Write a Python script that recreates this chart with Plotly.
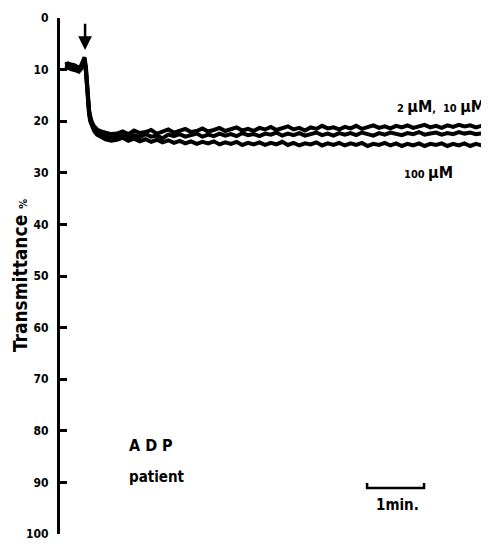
import plotly.graph_objects as go

# time in minutes after start of recording
time_min = [0.09, 0.14, 0.19, 0.24, 0.29, 0.33, 0.37, 0.40, 0.43, 0.455,
            0.475, 0.49, 0.51, 0.53, 0.56, 0.60, 0.65, 0.72, 0.80, 0.90,
            1.0, 1.1, 1.2, 1.3, 1.4, 1.5, 1.6, 1.7, 1.8, 1.9,
            2.0, 2.1, 2.2, 2.3, 2.4, 2.5, 2.6, 2.7, 2.8, 2.9,
            3.0, 3.1, 3.2, 3.3, 3.4, 3.5, 3.6, 3.7, 3.8, 3.9,
            4.0, 4.1, 4.2, 4.3, 4.4, 4.5, 4.6, 4.7, 4.8, 4.9,
            5.0, 5.1, 5.2, 5.3, 5.4, 5.5, 5.6, 5.7, 5.8, 5.9,
            6.0, 6.1, 6.2, 6.3, 6.4, 6.5, 6.6, 6.7, 6.8, 6.9,
            7.0, 7.1, 7.2, 7.3, 7.4, 7.5, 7.6]

adp_2uM = [9.0, 8.8, 9.0, 9.1, 9.4, 9.8, 9.2, 8.3, 7.6, 9.5,
           13.0, 16.0, 17.8, 19.0, 20.2, 21.0, 21.6, 22.0, 22.3, 22.5,
           22.4, 22.0, 22.5, 21.8, 22.3, 22.1, 21.7, 22.4, 22.0, 21.6,
           22.2, 21.8, 21.5, 22.1, 21.9, 21.4, 22.0, 21.7, 21.3, 21.9,
           21.6, 21.2, 21.8, 21.5, 21.9, 21.3, 21.6, 21.1, 21.7, 21.4,
           21.0, 21.6, 21.3, 21.8, 21.2, 21.5, 20.9, 21.4, 21.2, 21.6,
           21.1, 21.4, 20.9, 21.5, 21.2, 20.8, 21.3, 21.0, 21.4, 20.9,
           21.2, 20.8, 21.3, 21.0, 20.7, 21.2, 20.9, 21.3, 20.8, 21.1,
           20.7, 21.0, 20.8, 21.2, 20.9, 21.0, 20.8]

adp_10uM = [9.4, 9.3, 9.5, 9.6, 9.8, 10.2, 9.6, 8.7, 7.9, 10.0,
            13.5, 16.5, 18.2, 19.5, 20.6, 21.5, 22.1, 22.6, 22.9, 23.2,
            23.0, 22.6, 23.2, 22.7, 23.1, 22.5, 23.0, 22.8, 23.3, 22.6,
            22.9, 22.5, 23.0, 22.7, 22.4, 23.0, 22.6, 22.9, 22.4, 22.8,
            22.5, 22.9, 22.3, 22.7, 22.5, 22.9, 22.4, 22.6, 22.2, 22.8,
            22.4, 22.7, 22.3, 22.8, 22.5, 22.2, 22.7, 22.4, 22.8, 22.3,
            22.6, 22.3, 22.7, 22.2, 22.5, 22.8, 22.3, 22.6, 22.2, 22.5,
            22.7, 22.3, 22.5, 22.1, 22.6, 22.4, 22.2, 22.6, 22.3, 22.5,
            22.1, 22.4, 22.2, 22.5, 22.3, 22.2, 22.4]

adp_100uM = [9.8, 9.6, 9.9, 10.0, 10.2, 10.4, 9.9, 9.0, 8.2, 10.5,
             14.0, 17.0, 18.6, 20.0, 21.0, 21.9, 22.6, 23.1, 23.5, 23.8,
             23.6, 23.2, 23.8, 23.4, 23.9, 23.5, 24.0, 23.6, 24.1, 23.7,
             24.2, 23.8, 24.3, 23.9, 24.4, 24.0, 24.3, 23.9, 24.5, 24.1,
             24.4, 24.0, 24.6, 24.2, 24.5, 24.1, 24.6, 24.2, 24.5, 24.0,
             24.6, 24.2, 24.7, 24.3, 24.5, 24.1, 24.7, 24.3, 24.6, 24.2,
             24.7, 24.3, 24.6, 24.2, 24.8, 24.4, 24.6, 24.2, 24.7, 24.3,
             24.8, 24.4, 24.7, 24.3, 24.8, 24.4, 24.6, 24.3, 24.8, 24.4,
             24.7, 24.3, 24.8, 24.4, 24.7, 24.5, 24.6]

y_ticks = [0, 10, 20, 30, 40, 50, 60, 70, 80, 90, 100]

# 1-minute scale bar
scale_x = [5.39, 5.39, 6.39, 6.39]
scale_y = [90.1, 91.1, 91.1, 90.1]

# ADP addition time (arrow)
adp_add_t = 0.44

FONT = "DejaVu Sans Condensed, Liberation Sans, sans-serif"

fig = go.Figure()
for name, ys in [("2 µM", adp_2uM), ("10 µM", adp_10uM), ("100 µM", adp_100uM)]:
    fig.add_trace(go.Scatter(x=time_min, y=ys, mode="lines", name=name,
                             line=dict(color="black", width=4),
                             hoverinfo="skip", showlegend=False))

fig.add_trace(go.Scatter(x=scale_x, y=scale_y, mode="lines",
                         line=dict(color="black", width=2.5),
                         showlegend=False, hoverinfo="skip"))

fig.add_annotation(x=adp_add_t, y=6.2, ax=adp_add_t, ay=0.8,
                   xref="x", yref="y", axref="x", ayref="y",
                   showarrow=True, arrowhead=2, arrowsize=1.1,
                   arrowwidth=2.5, arrowcolor="black", text="")

fig.add_annotation(x=1.18, y=82.8, text="A D P", showarrow=False,
                   xanchor="left", yanchor="middle",
                   font=dict(family=FONT, color="black", size=16, weight="bold"))
fig.add_annotation(x=1.18, y=89.0, text="patient", showarrow=False,
                   xanchor="left", yanchor="middle",
                   font=dict(family=FONT, color="black", size=15, weight="bold"))
fig.add_annotation(x=5.92, y=94.4, text="1min.", showarrow=False,
                   xanchor="center", yanchor="middle",
                   font=dict(family=FONT, color="black", size=15, weight="bold"))
fig.add_annotation(x=6.93, y=30.0,
                   text='<span style="font-size:11px">100 </span><span style="font-size:16px">µM</span>',
                   showarrow=False, xanchor="right", yanchor="middle",
                   font=dict(family=FONT, color="black", size=14, weight="bold"))
fig.add_annotation(x=7.5, y=17.2,
                   text='<span style="font-size:11px">2 </span><span style="font-size:16px">µM</span><span style="font-size:11px">,  10 </span><span style="font-size:16px">µM</span>',
                   showarrow=False, xanchor="right", yanchor="middle",
                   font=dict(family=FONT, color="black", size=14, weight="bold"))
fig.add_annotation(x=-0.093, y=50, xref="paper", yref="y",
                   text='Transmittance <span style="font-size:11px">%</span>',
                   textangle=-90, showarrow=False,
                   xanchor="center", yanchor="middle",
                   font=dict(family=FONT, color="black", size=19, weight="bold"))

fig.update_layout(
    template="none",
    width=481, height=532,
    margin=dict(l=52, r=0, t=10, b=6),
    plot_bgcolor="white", paper_bgcolor="white",
    xaxis=dict(range=[0, 7.53], visible=False, automargin=False),
    yaxis=dict(range=[100, 0], tickvals=y_ticks, automargin=False,
               ticks="inside", ticklen=7, tickwidth=3, tickcolor="black",
               showline=True, linewidth=3, linecolor="black",
               showgrid=False, zeroline=False,
               ticklabelstandoff=6, ticklabeloverflow="allow",
               tickfont=dict(family=FONT, size=12, color="black", weight="bold")),
)

fig.write_html("out.html")
